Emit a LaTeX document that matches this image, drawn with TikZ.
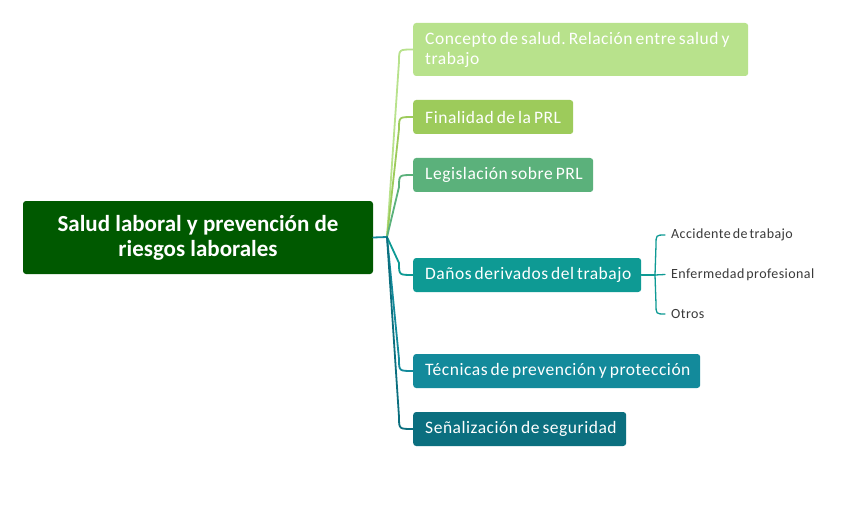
\documentclass[tikz,border=0pt]{standalone}
\usepackage{fontspec}
\setmainfont{Carlito}
\newfontfamily\topicfont[LetterSpace=3]{Carlito}
\newfontfamily\subfont[LetterSpace=3]{Carlito}
\newfontfamily\rootfont{Carlito}
\usetikzlibrary{calc}
\definecolor{croot}{HTML}{005900}
\definecolor{ca}{HTML}{B8E28C}
\definecolor{cb}{HTML}{9DCB5B}
\definecolor{cc}{HTML}{5BB17B}
\definecolor{cd}{HTML}{0E9A94}
\definecolor{ce}{HTML}{138A9B}
\definecolor{cf}{HTML}{0B6F7F}
\definecolor{subtxt}{HTML}{3A3A3A}
\newcommand{\tline}[1]{\hspace*{12pt}\raisebox{-1.2pt}{\mbox{\spaceskip=3pt\relax #1}}}
\newcommand{\sline}[1]{\mbox{\spaceskip=2pt\relax #1}}
\tikzset{
  topic/.style={rounded corners=3pt, text=white, align=left, inner xsep=0pt, inner ysep=0pt,
    minimum height=34pt, anchor=west,
    font=\topicfont\fontsize{17.5}{20}\selectfont},
  subtopic/.style={anchor=west, inner sep=2pt, text=subtxt,
    font=\subfont\fontsize{14}{16}\selectfont},
  link/.style={line width=1.8pt, line cap=round},
  sublink/.style={line width=1.3pt, cd, line cap=round}
}
\begin{document}
\frenchspacing
\begin{tikzpicture}[x=1pt,y=-1pt]
\useasboundingbox (0,0) rectangle (848,513);
\fill[white] (0,0) rectangle (848,513);

\node[rounded corners=3pt, fill=croot, text=white, minimum width=350pt, minimum height=73pt,
  align=center, inner sep=0pt, font=\rootfont\fontsize{23}{25}\selectfont\bfseries] (root) at (198,237.5)
  {Salud laboral y prevención de\\riesgos laborales};

\node[topic, fill=ca, text width=335pt, minimum height=53pt] (a) at (413,49.5)
  {\tline{Concepto de salud. Relación entre salud y}\\\tline{trabajo}};
\node[topic, fill=cb, text width=160pt] (b) at (413,117) {\tline{Finalidad de la PRL}};
\node[topic, fill=cc, text width=180pt] (c) at (413,175) {\tline{Legislación sobre PRL}};
\node[topic, fill=cd, text width=228pt] (d) at (413,275) {\tline{Daños derivados del trabajo}};
\node[topic, fill=ce, text width=287pt] (e) at (413,371) {\tline{Técnicas de prevención y protección}};
\node[topic, fill=cf, text width=213pt] (f) at (413,429) {\tline{Señalización de seguridad}};

\node[subtopic] (d1) at (669,235) {\sline{Accidente de trabajo}};
\node[subtopic] (d2) at (669,274.5) {\sline{Enfermedad profesional}};
\node[subtopic] (d3) at (669,314) {\sline{Otros}};

\coordinate (J) at (387,237);
\coordinate (K) at (655,275);

\draw[link, ce] (root.east) -- (J);
\draw[link, ca] (J) -- ($(a.west)+(-14,12)$) .. controls ($(a.west)+(-14,0)$) .. (a.west);
\draw[link, cb] (J) -- ($(b.west)+(-14,12)$) .. controls ($(b.west)+(-14,0)$) .. (b.west);
\draw[link, cc] (J) -- ($(c.west)+(-14,12)$) .. controls ($(c.west)+(-14,0)$) .. (c.west);
\draw[link, cd] (J) -- ($(d.west)+(-14,-12)$) .. controls ($(d.west)+(-14,0)$) .. (d.west);
\draw[link, ce] (J) -- ($(e.west)+(-14,-12)$) .. controls ($(e.west)+(-14,0)$) .. (e.west);
\draw[link, cf] (J) -- ($(f.west)+(-14,-12)$) .. controls ($(f.west)+(-14,0)$) .. (f.west);

\draw[sublink] (d.east) -- (K);
\draw[sublink] (K) -- ($(d1.west)+(-13,10)$) .. controls ($(d1.west)+(-13,0)$) .. ($(d1.west)+(-4,0)$);
\draw[sublink] (K) -- ($(d2.west)+(-4,0)$);
\draw[sublink] (K) -- ($(d3.west)+(-13,-10)$) .. controls ($(d3.west)+(-13,0)$) .. ($(d3.west)+(-4,0)$);
\end{tikzpicture}
\end{document}
